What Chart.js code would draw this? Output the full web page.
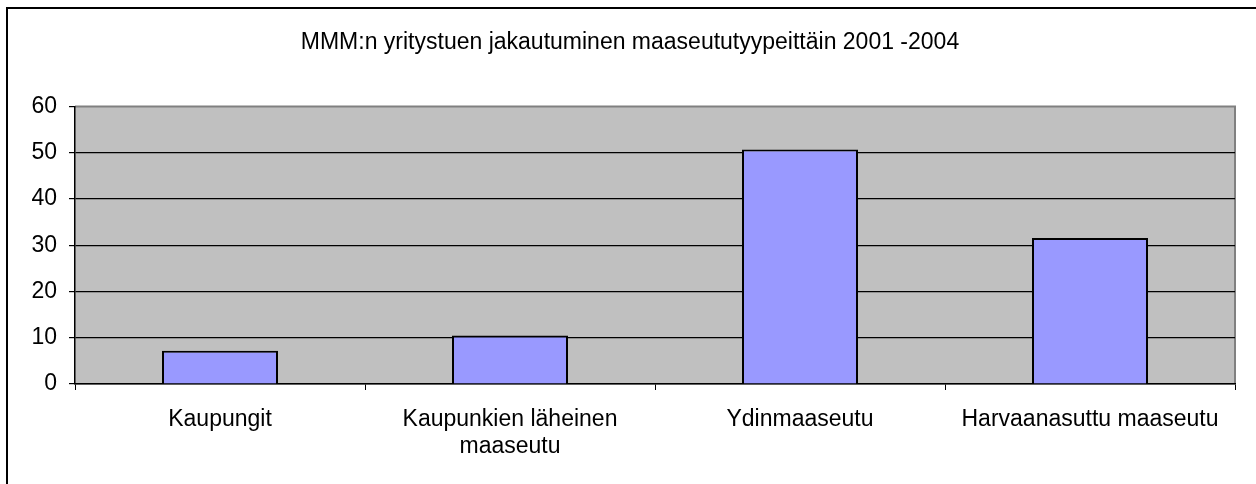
<!DOCTYPE html>
<html>
<head>
<meta charset="utf-8">
<script src="https://cdn.jsdelivr.net/npm/chart.js@4.4.1/dist/chart.umd.min.js"></script>
<style>
  html, body { margin: 0; padding: 0; background: #fff; overflow: hidden; }
  #wrap { position: relative; width: 1256px; height: 484px; }
  #frame { position: absolute; left: 6px; top: 7px; width: 1300px; height: 600px; border: 2px solid #000; box-sizing: border-box; pointer-events: none; }
  canvas { position: absolute; left: 0; top: 0; }
</style>
</head>
<body>
<div id="wrap">
  <div id="frame"></div>
  <canvas id="c" width="1256" height="484"></canvas>
</div>
<script>
const chartTitle = 'MMM:n yritystuen jakautuminen maaseututyypeittäin 2001 -2004';
const categories = [
  'Kaupungit',
  ['Kaupunkien läheinen', 'maaseutu'],
  'Ydinmaaseutu',
  'Harvaanasuttu maaseutu'
];
const values = [7.2, 10.5, 50.7, 31.6];
const yTicks = [0, 10, 20, 30, 40, 50, 60];

const FONT = 'Liberation Sans, Arial, sans-serif';
const FS = 23;

const plotBg = {
  id: 'plotBg',
  afterLayout(chart) {
    if (chart.titleBlock) { chart.titleBlock.left += 25; }
  },
  beforeDraw(chart) {
    const { ctx, chartArea: a } = chart;
    ctx.save();
    ctx.fillStyle = '#C0C0C0';
    ctx.fillRect(a.left, a.top, a.right - a.left, a.bottom - a.top);
    ctx.strokeStyle = '#808080';
    ctx.lineWidth = 2;
    ctx.beginPath();
    ctx.moveTo(a.left, a.top);
    ctx.lineTo(a.right, a.top);
    ctx.lineTo(a.right, a.bottom);
    ctx.stroke();
    ctx.restore();
  }
};

new Chart(document.getElementById('c'), {
  type: 'bar',
  data: {
    labels: categories,
    datasets: [{
      data: values,
      backgroundColor: '#9999FF',
      borderColor: '#000000',
      borderWidth: 2,
      barPercentage: 0.4,
      categoryPercentage: 1.0
    }]
  },
  options: {
    responsive: false,
    animation: false,
    devicePixelRatio: 1,
    layout: { padding: { top: 7, right: 21, left: 0, bottom: 0 } },
    plugins: {
      legend: { display: false },
      tooltip: { enabled: false },
      title: {
        display: true,
        text: chartTitle,
        color: '#000',
        font: { family: FONT, size: FS, weight: 'normal', lineHeight: 1.2 },
        padding: { top: 22, bottom: 50 }
      }
    },
    scales: {
      x: {
        offset: true,
        grid: { drawOnChartArea: false, drawTicks: true, tickLength: 6, color: '#000', offset: true },
        border: { display: true, color: '#000', width: 1.5 },
        ticks: {
          color: '#000',
          maxRotation: 0,
          autoSkip: false,
          padding: 17,
          font: { family: FONT, size: FS, lineHeight: 1.14 }
        },
        afterFit(scale) { scale.height = 100; }
      },
      y: {
        min: 0,
        max: 60,
        afterBuildTicks(scale) { scale.ticks = yTicks.map(v => ({ value: v })); },
        grid: {
          color: (ctx) => (ctx.tick && ctx.tick.value === 60) ? 'rgba(0,0,0,0)' : '#000',
          tickColor: '#000',
          lineWidth: 1.2,
          tickLength: 6,
          drawTicks: true
        },
        border: { display: true, color: '#000', width: 1.5 },
        ticks: {
          color: '#000',
          padding: 12,
          font: { family: FONT, size: FS }
        },
        afterFit(scale) { scale.width = 75; }
      }
    }
  },
  plugins: [plotBg]
});
</script>
</body>
</html>
